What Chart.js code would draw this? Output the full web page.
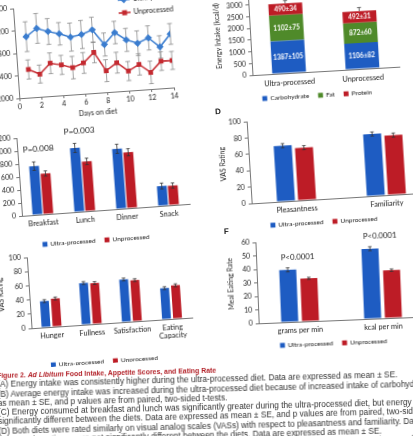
<!DOCTYPE html>
<html>
<head>
<meta charset="utf-8">
<script src="https://cdn.jsdelivr.net/npm/chart.js@4.4.1/dist/chart.umd.min.js"></script>
<style>
  html, body { margin: 0; padding: 0; background: #fff; }
  body { width: 413px; height: 436px; overflow: hidden; position: relative; }
  .panel { position: absolute; transform-origin: 50% 50%; }
  .panel canvas { display: block; }
  .tag { position: absolute; font: bold 8px "Liberation Sans", Arial, sans-serif; color: #222; }
  .caption { position: absolute; left: -3px; top: 371px; width: 820px; transform-origin: 0 0; transform: rotate(-1.4deg);
             font-family: "Liberation Sans", Arial, sans-serif; font-size: 8.3px; line-height: 9.3px; color: #333; white-space: nowrap; }
  .caption .title { color: #b3232a; font-weight: bold; font-size: 6.9px; }
</style>
</head>
<body>

<div class="panel" style="left:-14px;top:-23px;width:215px;height:142px;transform:rotate(-4deg)"><canvas id="chartA" width="215" height="142"></canvas></div>
<div class="panel" style="left:208px;top:-43px;width:231px;height:146px;transform:rotate(-3.3deg)"><canvas id="chartB" width="231" height="146"></canvas></div>
<div class="panel" style="left:-13px;top:92px;width:232px;height:158px;transform:rotate(-4.1deg)"><canvas id="chartC" width="232" height="158"></canvas></div>
<div class="panel" style="left:213px;top:80px;width:252px;height:154px;transform:rotate(-3.5deg)"><canvas id="chartD" width="252" height="154"></canvas></div>
<div class="panel" style="left:-5px;top:212px;width:229px;height:151px;transform:rotate(-3.8deg)"><canvas id="chartE" width="229" height="151"></canvas></div>
<div class="panel" style="left:221px;top:203px;width:238px;height:153px;transform:rotate(-2.3deg)"><canvas id="chartF" width="238" height="153"></canvas></div>

<div class="tag" style="left:215px;top:107px;transform:rotate(-3.5deg)">D</div>
<div class="tag" style="left:224px;top:227px;transform:rotate(-2.3deg)">F</div>

<div class="caption">
  <div class="title">Figure 2. <i>Ad Libitum</i> Food Intake, Appetite Scores, and Eating Rate</div>
  <div>(A) Energy intake was consistently higher during the ultra-processed diet. Data are expressed as mean ± SE.</div>
  <div>(B) Average energy intake was increased during the ultra-processed diet because of increased intake of carbohydrate and fat, but not protein. Data are expressed</div>
  <div>as mean ± SE, and p values are from paired, two-sided t-tests.</div>
  <div>(C) Energy consumed at breakfast and lunch was significantly greater during the ultra-processed diet, but energy consumed at dinner and snacks was not</div>
  <div>significantly different between the diets. Data are expressed as mean ± SE, and p values are from paired, two-sided t-tests.</div>
  <div>(D) Both diets were rated similarly on visual analog scales (VASs) with respect to pleasantness and familiarity. Data are expressed as mean ± SE.</div>
  <div>(E) Appetite ratings were not significantly different between the diets. Data are expressed as mean ± SE.</div>
  <div>(F) Eating rate was greater during the ultra-processed diet. Data are expressed as mean ± SE, and p values are from paired, two-sided t-tests.</div>
</div>

<script>
// --- data ---
const dayNumbers = [1, 2, 3, 4, 5, 6, 7, 8, 9, 10, 11, 12, 13, 14];
const ultraDaily = [3084, 3218, 3149, 3094, 3021, 3054, 3123, 2848, 3048, 2903, 2830, 2911, 2736, 2954];
const unprocDaily = [2500, 2404, 2583, 2540, 2478, 2547, 2722, 2382, 2511, 2348, 2453, 2297, 2483, 2482];
const ultraDailySE = [265, 265, 230, 200, 250, 250, 225, 205, 200, 205, 220, 215, 200, 185];
const unprocDailySE = [170, 160, 185, 170, 200, 185, 185, 195, 185, 170, 190, 200, 165, 160];

const dietGroups = ['Ultra-processed', 'Unprocessed'];
const carbKcal = [1387, 1106];
const fatKcal = [1102, 872];
const proteinKcal = [490, 492];
const carbSE = [105, 82];
const fatSE = [75, 60];
const proteinSE = [34, 31];
const totalSE = [120, 150];

const meals = ['Breakfast', 'Lunch', 'Dinner', 'Snack'];
const ultraMeal = [750, 985, 925, 305];
const unprocMeal = [625, 765, 860, 300];
const ultraMealSE = [65, 70, 70, 45];
const unprocMealSE = [40, 50, 55, 40];
const mealP = ['P=0.008', 'P=0.003', '', ''];

const hedonics = ['Pleasantness', 'Familiarity'];
const ultraHedonic = [68, 75.5];
const unprocHedonic = [64, 72.6];
const ultraHedonicSE = [2.5, 2.5];
const unprocHedonicSE = [2.5, 2.5];

const appetite = ['Hunger', 'Fullness', 'Satisfaction', ['Eating', 'Capacity']];
const ultraAppetite = [37, 58.7, 60, 44];
const unprocAppetite = [39.6, 57.6, 58, 47];
const ultraAppetiteSE = [2, 2, 2, 2];
const unprocAppetiteSE = [2, 2, 2, 2];

const rates = ['grams per min', 'kcal per min'];
const ultraRate = [38.7, 51.9];
const unprocRate = [31.8, 35.4];
const ultraRateSE = [1.5, 1.5];
const unprocRateSE = [0.8, 0.9];
const rateP = ['P<0.0001', 'P<0.0001'];

const BLUE = '#1e5cc2', RED = '#bd1c26', GREEN = '#4f8a2a';
const LINE_BLUE = '#3b7dcf', LINE_RED = '#c42a30';
const AXIS = '#777';
const FONT = 'Lato, "Liberation Sans", sans-serif';

Chart.defaults.font.family = FONT;
Chart.defaults.color = '#222';

// error bars drawn from the y scale
function drawErrors(chart, opts) {
    const { ctx } = chart;
    const y = chart.scales.y;
    chart.data.datasets.forEach((ds, di) => {
        if (!ds.errors) return;
        ctx.save();
        ctx.strokeStyle = opts.color || '#333';
        ctx.lineWidth = opts.width || 1;
        chart.getDatasetMeta(di).data.forEach((el, i) => {
            const v = y.getValueForPixel(el.y);
            const hi = y.getPixelForValue(v + ds.errors[i]);
            const lo = ds.plusOnly ? el.y : y.getPixelForValue(v - ds.errors[i]);
            const c = opts.cap || 2;
            ctx.beginPath();
            ctx.moveTo(el.x, lo); ctx.lineTo(el.x, hi);
            ctx.moveTo(el.x - c, hi); ctx.lineTo(el.x + c, hi);
            if (!ds.plusOnly) { ctx.moveTo(el.x - c, lo); ctx.lineTo(el.x + c, lo); }
            ctx.stroke();
        });
        ctx.restore();
    });
}

const errorBars = {
    id: 'errorBars',
    beforeDatasetsDraw(chart, args, opts) { if (opts.behind) drawErrors(chart, opts); },
    afterDatasetsDraw(chart, args, opts) { if (!opts.behind) drawErrors(chart, opts); }
};

// text inside stacked segments and p values above category pairs
const barNotes = {
    id: 'barNotes',
    afterDatasetsDraw(chart, args, opts) {
        const { ctx } = chart;
        ctx.save();
        ctx.textAlign = 'center';
        ctx.textBaseline = 'middle';
        chart.data.datasets.forEach((ds, di) => {
            const meta = chart.getDatasetMeta(di);
            if (ds.notes) {
                ctx.font = `bold ${opts.insideSize}px ${FONT}`;
                ctx.fillStyle = '#fff';
                meta.data.forEach((el, i) => ctx.fillText(ds.notes[i], el.x, (el.y + el.base) / 2));
            }
            if (ds.above) {
                ctx.font = `${opts.aboveSize}px ${FONT}`;
                ctx.fillStyle = '#222';
                ds.above.forEach((t, i) => {
                    if (t) ctx.fillText(t, chart.scales.x.getPixelForValue(i), meta.data[i].y - opts.gap);
                });
            }
        });
        ctx.restore();
    }
};

// small legend rows like the Excel originals
const keyRow = {
    id: 'keyRow',
    afterDraw(chart, args, opts) {
        const { ctx, chartArea: a } = chart;
        const sets = chart.data.datasets;
        ctx.save();
        ctx.font = `${opts.size}px ${FONT}`;
        ctx.textBaseline = 'middle';
        if (opts.lines) {
            sets.forEach((ds, i) => {
                const x = a.right - opts.right, y = a.top + opts.top + i * opts.row;
                ctx.strokeStyle = ds.borderColor;
                ctx.fillStyle = ds.borderColor;
                ctx.lineWidth = 1.5;
                ctx.beginPath(); ctx.moveTo(x, y); ctx.lineTo(x + 12, y); ctx.stroke();
                Chart.helpers.drawPoint(ctx, { pointStyle: ds.pointStyle, radius: 2.4, borderWidth: 1 }, x + 6, y);
                ctx.fillStyle = '#222';
                ctx.fillText(ds.label, x + 15, y);
            });
        } else {
            const box = opts.size * 0.75, gap = 3, space = 9;
            const widths = sets.map(ds => box + gap + ctx.measureText(ds.label).width);
            const total = widths.reduce((s, w) => s + w, 0) + space * (sets.length - 1);
            let x = (a.left + a.right) / 2 + opts.dx - total / 2;
            const y = a.bottom + opts.dy;
            sets.forEach((ds, i) => {
                ctx.fillStyle = ds.backgroundColor;
                ctx.fillRect(x, y - box / 2, box, box);
                ctx.fillStyle = '#222';
                ctx.fillText(ds.label, x + box + gap, y);
                x += widths[i] + space;
            });
        }
        ctx.restore();
    }
};

function yAxis(min, max, step, width, size, title) {
    return {
        min, max,
        ticks: { stepSize: step, font: { size }, padding: 3, callback: v => String(v) },
        grid: { drawOnChartArea: false, tickLength: 3, color: AXIS },
        border: { color: AXIS },
        title: { display: !!title, text: title, font: { size }, padding: { top: 0, bottom: 1 } },
        afterFit: s => { s.width = width; }
    };
}

function catAxis(height, size, stacked, pad) {
    return {
        stacked: !!stacked,
        grid: { display: false, drawTicks: false },
        border: { color: AXIS },
        ticks: { font: { size }, padding: pad || 4, maxRotation: 0, autoSkip: false },
        afterFit: s => { s.height = height; }
    };
}

function pairChart(id, labels, sets, o) {
    return new Chart(document.getElementById(id), {
        type: 'bar',
        data: {
            labels,
            datasets: sets.map(s => ({
                label: s.label, data: s.data, errors: s.errors, above: s.above,
                backgroundColor: s.color, borderWidth: 0,
                categoryPercentage: o.catPct, barPercentage: o.barPct
            }))
        },
        options: {
            responsive: false, animation: false,
            layout: { padding: o.padding },
            scales: { x: catAxis(o.xh, 7.3), y: yAxis(o.min, o.max, o.step, o.yw, o.tickSize, o.title) },
            plugins: {
                legend: { display: false }, tooltip: { enabled: false },
                errorBars: { color: '#333', cap: 1.8, width: 0.8 },
                barNotes: { aboveSize: o.pSize || 8, gap: o.pGap || 12 },
                keyRow: { size: 6.5, dx: o.keyDx, dy: o.keyDy }
            }
        },
        plugins: [errorBars, barNotes, keyRow]
    });
}

// A: daily energy intake
new Chart(document.getElementById('chartA'), {
    type: 'line',
    data: {
        datasets: [
            { label: 'Ultra-processed', data: dayNumbers.map((d, i) => ({ x: d, y: ultraDaily[i] })), errors: ultraDailySE,
              borderColor: LINE_BLUE, backgroundColor: LINE_BLUE, pointStyle: 'rectRot', pointRadius: 2.6, borderWidth: 1.5 },
            { label: 'Unprocessed', data: dayNumbers.map((d, i) => ({ x: d, y: unprocDaily[i] })), errors: unprocDailySE,
              borderColor: LINE_RED, backgroundColor: LINE_RED, pointStyle: 'rect', pointRadius: 2.3, borderWidth: 1.5 }
        ]
    },
    options: {
        responsive: false, animation: false,
        layout: { padding: { left: 2, top: 26, right: 30, bottom: 2 } },
        scales: {
            x: {
                type: 'linear', min: 0, max: 14,
                ticks: { stepSize: 2, font: { size: 7 }, padding: 2 },
                grid: { drawOnChartArea: false, tickLength: 3, color: AXIS },
                border: { color: AXIS },
                title: { display: true, text: 'Days on diet', font: { size: 7 }, padding: { top: 1, bottom: 0 } },
                afterFit: s => { s.height = 24; }
            },
            y: yAxis(2000, 3600, 200, 28, 7, 'Energy Intake (kcal/d)')
        },
        plugins: {
            legend: { display: false }, tooltip: { enabled: false },
            errorBars: { behind: true, color: '#8a8a8a', cap: 2.4, width: 0.8 },
            keyRow: { lines: true, size: 7, right: 50, top: -1, row: 13 }
        }
    },
    plugins: [errorBars, keyRow]
});

// B: macronutrient breakdown
new Chart(document.getElementById('chartB'), {
    type: 'bar',
    data: {
        labels: dietGroups,
        datasets: [
            { label: 'Carbohydrate', data: carbKcal, backgroundColor: BLUE, notes: carbKcal.map((v, i) => `${v}±${carbSE[i]}`) },
            { label: 'Fat', data: fatKcal, backgroundColor: GREEN, notes: fatKcal.map((v, i) => `${v}±${fatSE[i]}`) },
            { label: 'Protein', data: proteinKcal, backgroundColor: RED, notes: proteinKcal.map((v, i) => `${v}±${proteinSE[i]}`),
              errors: totalSE, plusOnly: true }
        ].map(d => Object.assign(d, { borderWidth: 0, categoryPercentage: 1, barPercentage: 0.46 }))
    },
    options: {
        responsive: false, animation: false,
        layout: { padding: { left: 6, top: 32, right: 42, bottom: 18 } },
        scales: {
            x: catAxis(14, 7.3, true, 5),
            y: Object.assign(yAxis(0, 3500, 500, 36, 7, 'Energy Intake (kcal/d)'), { stacked: true })
        },
        plugins: {
            legend: { display: false }, tooltip: { enabled: false },
            errorBars: { color: '#444', cap: 2, width: 0.8 },
            barNotes: { insideSize: 6.5 },
            keyRow: { size: 6.5, dx: -10, dy: 24 }
        }
    },
    plugins: [errorBars, barNotes, keyRow]
});

// C: energy by meal
pairChart('chartC', meals, [
    { label: 'Ultra-processed', data: ultraMeal, errors: ultraMealSE, color: BLUE, above: mealP },
    { label: 'Unprocessed', data: unprocMeal, errors: unprocMealSE, color: RED }
], { min: 0, max: 1200, step: 200, yw: 32, xh: 16, tickSize: 7, title: 'Energy Intake (kcal)',
     padding: { left: 0, top: 40, right: 32, bottom: 24 }, catPct: 0.52, barPct: 0.9,
     keyDx: -12, keyDy: 30, pSize: 8.3, pGap: 17 });

// D: hedonic ratings
pairChart('chartD', hedonics, [
    { label: 'Ultra-processed', data: ultraHedonic, errors: ultraHedonicSE, color: BLUE },
    { label: 'Unprocessed', data: unprocHedonic, errors: unprocHedonicSE, color: RED }
], { min: 0, max: 100, step: 20, yw: 30, xh: 16, tickSize: 7, title: 'VAS Rating',
     padding: { left: 6, top: 36, right: 36, bottom: 20 }, catPct: 0.47, barPct: 0.85,
     keyDx: -19, keyDy: 23 });

// E: appetite ratings
pairChart('chartE', appetite, [
    { label: 'Ultra-processed', data: ultraAppetite, errors: ultraAppetiteSE, color: BLUE },
    { label: 'Unprocessed', data: unprocAppetite, errors: unprocAppetiteSE, color: RED }
], { min: 0, max: 100, step: 20, yw: 32, xh: 26, tickSize: 7, title: 'VAS Rating',
     padding: { left: 2, top: 40, right: 34, bottom: 14 }, catPct: 0.55, barPct: 0.8,
     keyDx: -10, keyDy: 38 });

// F: eating rate
pairChart('chartF', rates, [
    { label: 'Ultra-processed', data: ultraRate, errors: ultraRateSE, color: BLUE, above: rateP },
    { label: 'Unprocessed', data: unprocRate, errors: unprocRateSE, color: RED }
], { min: 0, max: 60, step: 10, yw: 30, xh: 16, tickSize: 7, title: 'Meal Eating Rate',
     padding: { left: 6, top: 36, right: 36, bottom: 20 }, catPct: 0.5, barPct: 0.82,
     keyDx: -9, keyDy: 23, pSize: 7.8, pGap: 12 });
</script>
</body>
</html>
